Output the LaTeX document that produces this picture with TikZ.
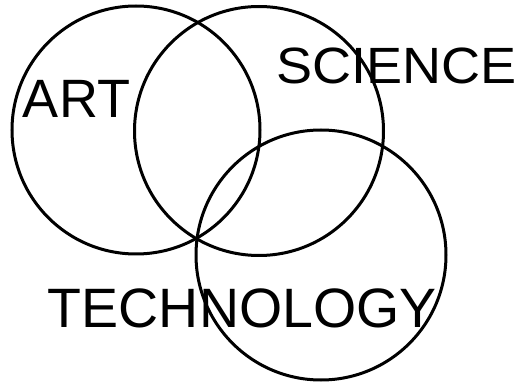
\documentclass[tikz,border=0pt]{standalone}
\usepackage{fontspec}
\setmainfont{Liberation Sans}
\begin{document}
\begin{tikzpicture}[x=1pt,y=-1pt,
  ring/.style={draw=black,line width=3pt,circle,minimum size=#1,inner sep=0pt},
  word/.style={inner sep=0pt,outer sep=0pt,anchor=base west,font=\fontsize{#1}{#1}\selectfont}]
  \useasboundingbox (0,0) rectangle (515,385);
  % the three overlapping fields
  \node[ring=248pt] (art) at (136,130) {};
  \node[ring=249pt] (science) at (259,131) {};
  \node[ring=250pt] (technology) at (321,255) {};
  % labels
  \node[word=54] (artlabel) at (23,118) {ART};
  \node[word=51] (sciencelabel) at (276,84) {\scalebox{1.06}[1]{SCIENCE}};
  \node[word=55.5] (techlabel) at (48,327) {TECHNOLOGY};
\end{tikzpicture}
\end{document}
